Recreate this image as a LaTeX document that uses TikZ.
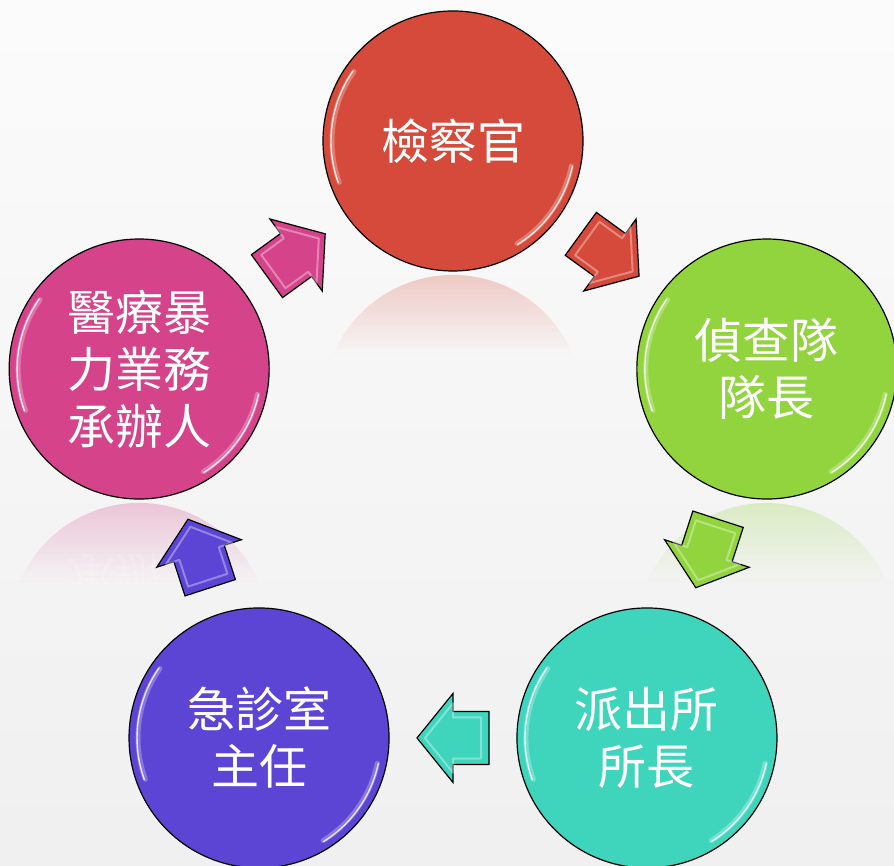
\documentclass[tikz,border=0pt]{standalone}
\usepackage{fontspec}
\newfontfamily\cjk{Noto Sans CJK TC}
\usetikzlibrary{calc,fadings,shapes.geometric}
\definecolor{cred}{HTML}{D64A3B}
\definecolor{cgreen}{HTML}{91D43E}
\definecolor{cteal}{HTML}{3FD5BD}
\definecolor{cpurple}{HTML}{5C45D4}
\definecolor{cpink}{HTML}{D5438A}
\tikzfading[name=reflfade, top color=transparent!68, bottom color=transparent!100]
\tikzset{
  bubble/.style={circle, minimum size=260pt, inner sep=0pt, draw=black, line width=1.2pt,
    text=white, align=center, font=\cjk\fontsize{48}{57}\selectfont},
  glowwide/.style={white, opacity=0.28, line width=5pt, line cap=round},
  glowthin/.style={white, opacity=0.8, line width=1.4pt, line cap=round},
  blockarrow/.pic={
    \path[pic actions] (-36,-26.5) -- (0,-26.5) -- (0,-44.5) -- (36,0) -- (0,44.5) -- (0,26.5) -- (-36,26.5) -- cycle;
    \draw[white, opacity=0.35, line width=2pt, line join=round, scale=0.78] (-36,-26.5) -- (0,-26.5) -- (0,-44.5) -- (36,0) -- (0,44.5) -- (0,26.5) -- (-36,26.5) -- cycle;
  },
  arrowstyle/.style={draw=black, line width=1.2pt, line join=miter}
}
\newcommand\myrefl[2]{%
  \path[fill=#2, path fading=reflfade] ($(#1)+(120,-214)$) arc[start angle=22.6, end angle=157.4, radius=130] -- cycle;}
\newcommand\myshine[1]{%
  \draw[glowwide] ([shift={(145:121)}]#1.center) arc[start angle=145, end angle=200, radius=121];
  \draw[glowthin] ([shift={(145:122)}]#1.center) arc[start angle=145, end angle=200, radius=122];
  \draw[glowwide] ([shift={(-12:121)}]#1.center) arc[start angle=-12, end angle=-58, radius=121];
  \draw[glowthin] ([shift={(-12:122)}]#1.center) arc[start angle=-12, end angle=-58, radius=122];}
\newcommand\myarrow[3]{%
  \path let \p1=($(#2)-(#1)$), \n1={atan2(\y1,\x1)} in
    ($(#1)!0.5!(#2)$) pic[rotate=\n1, fill=#3, arrowstyle] {blockarrow};}
\begin{document}
\begin{tikzpicture}[x=1pt,y=1pt]
\useasboundingbox (0,0) rectangle (894,866);
\fill[top color=gray!3, bottom color=gray!12] (0,0) rectangle (894,866);
\coordinate (O) at (453,395);
\coordinate (pr) at ($(O)+(90:330)$);
\coordinate (pg) at ($(O)+(18:330)$);
\coordinate (pt) at ($(O)+(-54:330)$);
\coordinate (pp) at ($(O)+(234:330)$);
\coordinate (pk) at ($(O)+(162:330)$);
% reflections
\myrefl{pr}{cred}
\myrefl{pg}{cgreen}
\myrefl{pk}{cpink}
\begin{scope}
  \clip ($(pk)+(-130,-134)$) rectangle ($(pk)+(130,-214)$);
  \node[text=white, text opacity=0.18, align=center, font=\cjk\fontsize{48}{57}\selectfont, yscale=-1] at ($(pk)+(0,-264)$) {醫療暴\\力業務\\承辦人};
\end{scope}
% circles
\node[bubble, fill=cred] (red) at (pr) {檢察官};
\node[bubble, fill=cgreen] (grn) at (pg) {偵查隊\\隊長};
\node[bubble, fill=cteal] (tea) at (pt) {派出所\\所長};
\node[bubble, fill=cpurple] (pur) at (pp) {急診室\\主任};
\node[bubble, fill=cpink] (pnk) at (pk) {醫療暴\\力業務\\承辦人};
\myshine{red}
\myshine{grn}
\myshine{tea}
\myshine{pur}
\myshine{pnk}
% arrows
\myarrow{red}{grn}{cred}
\myarrow{grn}{tea}{cgreen}
\myarrow{tea}{pur}{cteal}
\myarrow{pur}{pnk}{cpurple}
\myarrow{pnk}{red}{cpink}
\end{tikzpicture}
\end{document}
